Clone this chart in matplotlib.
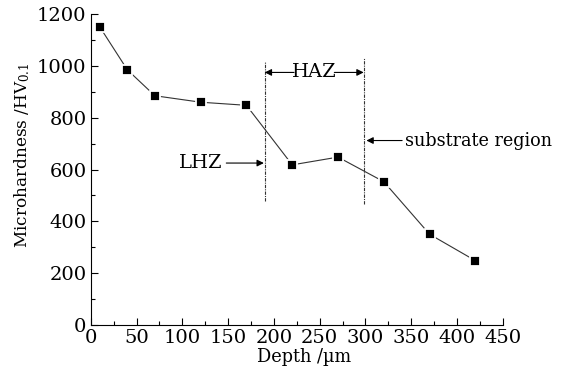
import matplotlib.pyplot as plt
from matplotlib.ticker import MultipleLocator

depth = [10, 40, 70, 120, 170, 220, 270, 320, 370, 420]
hardness = [1150, 985, 885, 860, 848, 618, 648, 553, 350, 248]

# zone boundaries (x, ymin, ymax)
lhz_x = 190
lhz_span = [480, 1020]
sub_x = 298
sub_span = [465, 1030]

plt.rcParams['font.family'] = 'DejaVu Serif'
plt.rcParams['mathtext.fontset'] = 'dejavuserif'
plt.rcParams['font.size'] = 14

fig = plt.figure(figsize=(5.78, 3.73), dpi=100)
ax = fig.add_axes([0.157, 0.129, 0.713, 0.833])

ax.plot(depth, hardness, color='#333333', lw=0.8, zorder=2)
ax.plot(depth, hardness, ls='none', marker='s', ms=6.5, mfc='black',
        mec='white', mew=1.3, zorder=3)

dashdot = (0, (3, 1, 1, 1))
ax.vlines(lhz_x, lhz_span[0], lhz_span[1], colors='#333333', lw=0.8, linestyles=[dashdot])
ax.vlines(sub_x, sub_span[0], sub_span[1], colors='#333333', lw=0.8, linestyles=[dashdot])

arrow = dict(arrowstyle='-|>', color='black', lw=0.8, mutation_scale=10, shrinkA=0, shrinkB=0)
ax.annotate('', xy=(lhz_x, 975), xytext=(222, 975), arrowprops=arrow)
ax.annotate('', xy=(sub_x, 975), xytext=(266, 975), arrowprops=arrow)
ax.text(244, 975, 'HAZ', ha='center', va='center')
ax.text(120, 625, 'LHZ', ha='center', va='center')
ax.annotate('', xy=(lhz_x - 1, 625), xytext=(148, 625), arrowprops=arrow)
ax.text(343, 712, 'substrate region', ha='left', va='center', fontsize=12.7)
ax.annotate('', xy=(sub_x + 3, 712), xytext=(340, 712), arrowprops=arrow)

ax.set_xlim(0, 450)
ax.set_ylim(0, 1200)
ax.xaxis.set_major_locator(MultipleLocator(50))
ax.xaxis.set_minor_locator(MultipleLocator(25))
ax.yaxis.set_major_locator(MultipleLocator(200))
ax.yaxis.set_minor_locator(MultipleLocator(100))
ax.tick_params(direction='in', which='major', length=5, width=0.8, pad=3)
ax.tick_params(direction='in', which='minor', length=3, width=0.8)
ax.spines['top'].set_visible(False)
ax.spines['right'].set_visible(False)

ax.set_xlabel('Depth /µm', fontsize=12.8)
ax.xaxis.set_label_coords(0.517, -0.075)
ax.set_ylabel(r'Microhardness /HV$_{0.1}$', fontsize=12.2)
ax.yaxis.set_label_coords(-0.143, 0.547)

fig.savefig('out.png', dpi=100)
